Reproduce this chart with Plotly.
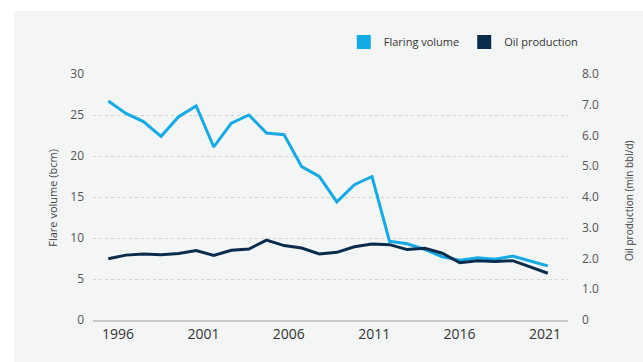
import plotly.graph_objects as go

years = list(range(1996, 2022))
flaring_bcm = [26.7, 25.2, 24.2, 22.4, 24.8, 26.1, 21.1, 24.0, 25.0, 22.8, 22.6, 18.7, 17.5,
               14.4, 16.5, 17.5, 9.6, 9.3, 8.6, 7.7, 7.3, 7.6, 7.4, 7.8, 7.2, 6.6]
oil_mbd = [1.99, 2.11, 2.15, 2.12, 2.16, 2.26, 2.10, 2.27, 2.31, 2.60, 2.42, 2.34, 2.15,
           2.20, 2.38, 2.47, 2.45, 2.29, 2.33, 2.17, 1.86, 1.93, 1.90, 1.93, 1.73, 1.52]
x_ticks = [1996, 2001, 2006, 2011, 2016, 2021]
left_ticks = [0, 5, 10, 15, 20, 25, 30]
right_ticks = [0, 1, 2, 3, 4, 5, 6, 7, 8]
right_ticktext = ["0", "1.0", "2.0", "3.0", "4.0", "5.0", "6.0", "7.0", "8.0"]

FLARE = "#14aae6"
OIL = "#0a2d4d"
PANEL = "#f4f6f6"
FONT = "Open Sans"

fig = go.Figure()
fig.add_trace(go.Scatter(x=years, y=flaring_bcm, mode="lines", name="Flaring volume",
                         line=dict(color=FLARE, width=3), showlegend=False, hoverinfo="skip"))
fig.add_trace(go.Scatter(x=years, y=oil_mbd, mode="lines", name="Oil production",
                         line=dict(color=OIL, width=3), yaxis="y2", showlegend=False,
                         hoverinfo="skip"))
# legend entries (square swatches)
fig.add_trace(go.Scatter(x=[None], y=[None], mode="markers", name="Flaring volume",
                         marker=dict(symbol="square", size=14, color=FLARE)))
fig.add_trace(go.Scatter(x=[None], y=[None], mode="markers", name="Oil production",
                         marker=dict(symbol="square", size=14, color=OIL)))
# tick-label axis helper
fig.add_trace(go.Scatter(x=[x_ticks[0]], y=[None], xaxis="x2", mode="markers",
                         showlegend=False, hoverinfo="skip"))

fig.update_layout(
    width=643, height=362,
    margin=dict(l=93, r=75, t=74, b=42),
    paper_bgcolor="white", plot_bgcolor=PANEL,
    font=dict(family=FONT, color="#444"),
    showlegend=True,
    legend=dict(orientation="h", x=0.528, y=1.13, xanchor="left", yanchor="middle",
                bgcolor="rgba(0,0,0,0)", font=dict(size=11, color="#333"),
                itemwidth=30, traceorder="normal"),
    xaxis=dict(range=[1995.13, 2022.15], showticklabels=False, showgrid=False,
               zeroline=False, showline=True, linecolor="#c9c9c9", linewidth=2,
               fixedrange=True),
    xaxis2=dict(range=[1994.536, 2022.347], overlaying="x", anchor="y", side="bottom",
                tickvals=x_ticks, ticktext=[str(v) for v in x_ticks], showgrid=False,
                zeroline=False, showline=False, ticks="",
                tickfont=dict(size=14, color="#333", family=FONT), ticklabelstandoff=4),
    yaxis=dict(range=[0, 30], tickvals=left_ticks, showgrid=True, gridcolor="#d2d2d2",
               griddash="dot", gridwidth=1, zeroline=False, ticks="",
               tickfont=dict(size=12, color="#555"), ticklabelstandoff=8),
    yaxis2=dict(range=[0, 8], overlaying="y", side="right", tickvals=right_ticks,
                ticktext=right_ticktext, showgrid=False, zeroline=False, ticks="",
                tickfont=dict(size=12, color="#555"), ticklabelstandoff=13),
    shapes=[dict(type="rect", xref="paper", yref="paper", x0=-0.1663, x1=1.16,
                 y0=-0.2, y1=1.256, fillcolor=PANEL, line=dict(width=0), layer="below")],
    annotations=[
        dict(text="Flare volume (bcm)", xref="paper", yref="paper",
             x=(51.7 - 93) / 475, y=(320 - 198) / 246, textangle=-90, showarrow=False,
             xanchor="center", yanchor="middle", font=dict(size=11, color="#444")),
        dict(text="Oil production (mln bbl/d)", xref="paper", yref="paper",
             x=(629 - 93) / 475, y=(320 - 201) / 246, textangle=-90, showarrow=False,
             xanchor="center", yanchor="middle", font=dict(size=10, color="#444")),
    ],
)

fig.write_html("out.html")
